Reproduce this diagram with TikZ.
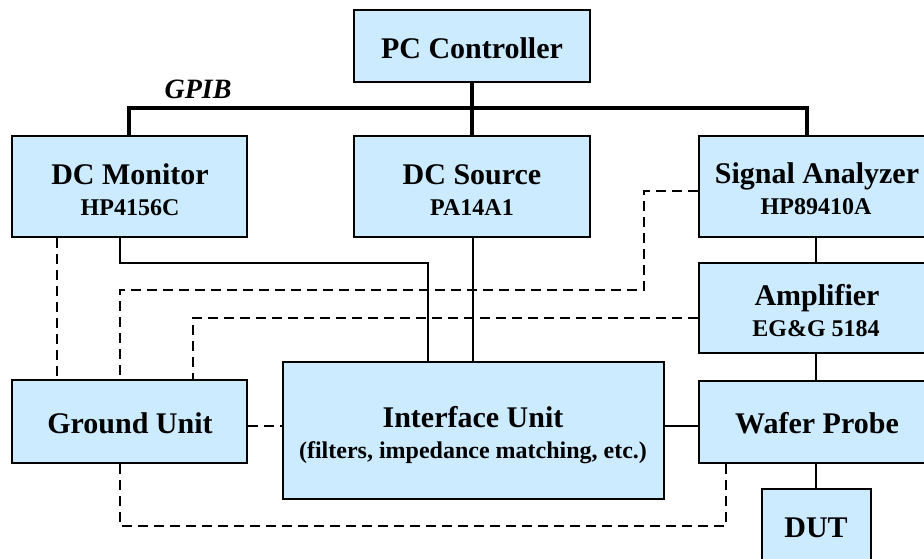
\documentclass[tikz,border=0pt]{standalone}
\usepackage{fontspec}
\setmainfont{Liberation Serif}
\usetikzlibrary{fit}
\definecolor{boxblue}{RGB}{204,235,255}
\begin{document}
\begin{tikzpicture}[x=0.5pt,y=-0.5pt,
 box/.style={draw=black, line width=1.1pt, fill=boxblue, inner sep=0pt, rectangle},
 mainlbl/.style={anchor=base, inner sep=0pt, font=\fontsize{15}{18}\selectfont\bfseries},
 sublbl/.style={anchor=base, inner sep=0pt, font=\fontsize{12}{14}\selectfont\bfseries},
 buslbl/.style={anchor=base, inner sep=0pt, font=\fontsize{14}{16}\selectfont\bfseries\itshape},
 bus/.style={line width=2pt},
 wire/.style={line width=1pt},
 dwire/.style={line width=1pt, dash pattern=on 5pt off 3pt}]
\useasboundingbox (0,0) rectangle (924,558);
\clip (0,0) rectangle (924,558);
% boxes
\node[box, fit={(354,10) (590,82)}] (pc) {};
\node[box, fit={(12,136) (247,237)}] (dcm) {};
\node[box, fit={(354,136) (590,237)}] (dcs) {};
\node[box, fit={(699,136) (936,237)}] (sa) {};
\node[box, fit={(699,263) (936,353)}] (amp) {};
\node[box, fit={(699,381) (936,463)}] (wp) {};
\node[box, fit={(762,489) (871,590)}] (dut) {};
\node[box, fit={(12,380) (247,463)}] (gu) {};
\node[box, fit={(283,362) (664,499)}] (iu) {};
% labels
\node[mainlbl] (pct) at (472,58) {PC Controller};
\node[mainlbl] (dcmt) at (130,184) {DC Monitor};
\node[sublbl] (dcms) at (130,215) {HP4156C};
\node[mainlbl] (dcst) at (472,184) {DC Source};
\node[sublbl] (dcss) at (472,215) {PA14A1};
\node[mainlbl] (sat) at (817,183) {Signal Analyzer};
\node[sublbl] (sas) at (816,214) {HP89410A};
\node[mainlbl] (ampt) at (817,305) {Amplifier};
\node[sublbl] (amps) at (816,336) {EG\&G 5184};
\node[mainlbl] (wpt) at (817,433) {Wafer Probe};
\node[mainlbl] (dutt) at (816,537) {DUT};
\node[mainlbl] (gut) at (130,433) {Ground Unit};
\node[mainlbl] (iut) at (473,427) {Interface Unit};
\node[sublbl] (ius) at (473,458) {(filters, impedance matching, etc.)};
\node[buslbl] (gpib) at (198,98) {GPIB};
% GPIB bus
\coordinate (busL) at (129,108);
\coordinate (busR) at (807,108);
\draw[bus] (pc.south) -- (pc.south |- busL);
\draw[bus] (dcm.north -| busL) -- (busL) -- (busR) -- (sa.north -| busR);
\draw[bus] (dcs.north) -- (dcs.north |- busL);
% solid wires
\draw[wire] (120,0 |- dcm.south) -- (120,263) -- (428,263) -- (428,0 |- iu.north);
\draw[wire] (473,0 |- dcs.south) -- (473,0 |- iu.north);
\draw[wire] (816,0 |- sa.south) -- (816,0 |- amp.north);
\draw[wire] (816,0 |- amp.south) -- (816,0 |- wp.north);
\draw[wire] (816,0 |- wp.south) -- (816,0 |- dut.north);
\draw[wire] (iu.east |- 0,426) -- (wp.west |- 0,426);
% dashed wires
\draw[dwire] (57,0 |- dcm.south) -- (57,0 |- gu.north);
\draw[dwire] (gu.east |- 0,426) -- (iu.west |- 0,426);
\draw[dwire] (sa.west |- 0,191) -- (644,191) -- (644,290) -- (120,290) -- (120,0 |- gu.north);
\draw[dwire] (amp.west |- 0,318) -- (193,318) -- (193,0 |- gu.north);
\draw[dwire] (120,0 |- gu.south) -- (120,526) -- (726,526) -- (726,0 |- wp.south);
\end{tikzpicture}
\end{document}
